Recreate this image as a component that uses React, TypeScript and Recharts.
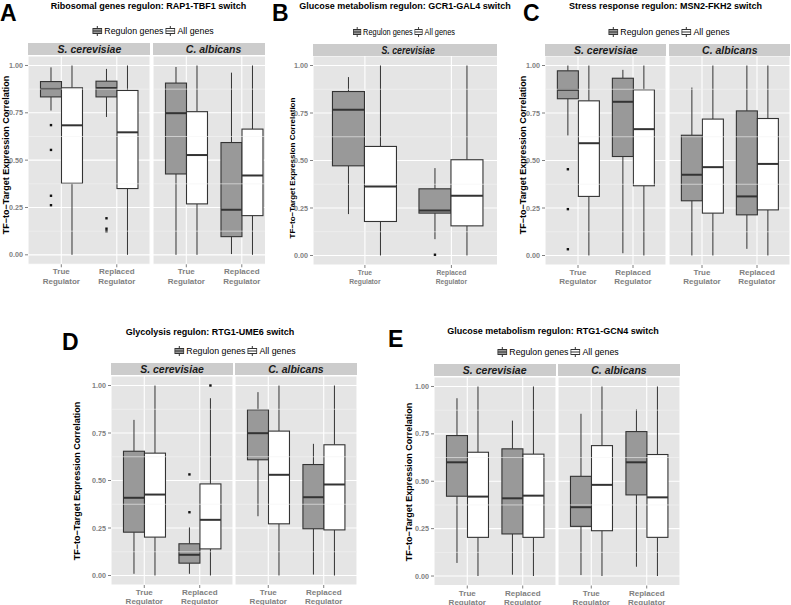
import React from "react";
import { ComposedChart, Bar, XAxis, YAxis, CartesianGrid, ReferenceLine } from "recharts";

const FONT = '"Liberation Sans", Arial, Helvetica, sans-serif';
const LINE = "#333333";

const categories = ["True Regulator", "Replaced Regulator"];
const yTicks = [0, 0.25, 0.5, 0.75, 1];
const minorTicks = [0.125, 0.375, 0.625, 0.875];

// box stats per category: [min, q1, median, q3, max]
// A: Ribosomal genes regulon, RAP1-TBF1
const aScerReg = [[0.762, 0.834, 0.876, 0.915, 0.99], [0.728, 0.834, 0.881, 0.917, 0.982]];
const aScerAll = [[0, 0.378, 0.684, 0.882, 1], [0, 0.35, 0.647, 0.868, 1]];
const aScerRegOut = [[0.685, 0.554, 0.312, 0.262], [0.193, 0.138, 0.125]];
const aCalbReg = [[0, 0.427, 0.748, 0.907, 0.992], [0.004, 0.096, 0.238, 0.593, 0.962]];
const aCalbAll = [[0, 0.269, 0.527, 0.756, 1], [0, 0.207, 0.419, 0.664, 1]];

// B: Glucose metabolism regulon, GCR1-GAL4
const bScerReg = [[0.218, 0.472, 0.767, 0.863, 0.939], [0.086, 0.223, 0.237, 0.351, 0.46]];
const bScerAll = [[0, 0.179, 0.363, 0.574, 1], [0, 0.156, 0.314, 0.504, 1]];
const bScerRegOut = [[], [0.004]];

// C: Stress response regulon, MSN2-FKH2
const cScerReg = [[0.632, 0.825, 0.872, 0.972, 1], [0.012, 0.521, 0.809, 0.933, 0.977]];
const cScerAll = [[0, 0.311, 0.591, 0.814, 1], [0, 0.367, 0.665, 0.872, 1]];
const cScerRegOut = [[0.454, 0.244, 0.033], []];
const cCalbReg = [[0, 0.288, 0.425, 0.633, 0.884], [0.035, 0.214, 0.311, 0.761, 1]];
const cCalbAll = [[0, 0.223, 0.465, 0.718, 1], [0, 0.24, 0.482, 0.721, 1]];

// D: Glycolysis regulon, RTG1-UME6
const dScerReg = [[0.009, 0.228, 0.409, 0.654, 0.819], [0.009, 0.065, 0.109, 0.167, 0.253]];
const dScerAll = [[0, 0.202, 0.426, 0.644, 1], [0, 0.14, 0.293, 0.482, 0.933]];
const dScerRegOut = [[], [0.333, 0.532]];
const dScerAllOut = [[], [1]];
const dCalbReg = [[0.312, 0.609, 0.749, 0.872, 0.965], [0.005, 0.246, 0.412, 0.584, 0.693]];
const dCalbAll = [[0, 0.272, 0.53, 0.76, 1], [0, 0.24, 0.479, 0.688, 1]];

// E: Glucose metabolism regulon, RTG1-GCN4
const eScerReg = [[0.069, 0.421, 0.6, 0.741, 0.938], [0.007, 0.222, 0.41, 0.671, 0.82]];
const eScerAll = [[0, 0.204, 0.419, 0.653, 1], [0, 0.204, 0.424, 0.643, 1]];
const eCalbReg = [[0.005, 0.262, 0.363, 0.526, 0.856], [0.049, 0.428, 0.6, 0.762, 0.879]];
const eCalbAll = [[0, 0.239, 0.481, 0.688, 1], [0, 0.204, 0.415, 0.641, 1]];

const none: number[][] = [[], []];

function facetData(reg: number[][], all: number[][], regOut = none, allOut = none) {
  return categories.map((cat, i) => ({ cat, reg: reg[i], all: all[i], regOut: regOut[i], allOut: allOut[i] }));
}

const panels = [
  {
    letter: "A", lx: 0, ly: 1.5, title: "Ribosomal genes regulon: RAP1-TBF1 switch", tx: 148.5, ty: 5.5,
    gx: 153, gy: 31, yx: 6, yy: 155, ys: 9, plotTop: 55.5, plotH: 208.3, sx: 1,
    facets: [
      { name: "S. cerevisiae", left: 28.4, width: 122.1, showY: true, data: facetData(aScerReg, aScerAll, aScerRegOut) },
      { name: "C. albicans", left: 152.5, width: 122.1, clipRight: 265, data: facetData(aCalbReg, aCalbAll) },
    ],
  },
  {
    letter: "B", lx: 272, ly: 1.5, title: "Glucose metabolism regulon: GCR1-GAL4 switch", tx: 405, ty: 5.5,
    gx: 404, gy: 32, yx: 291.5, yy: 168, ys: 8, plotTop: 56.2, plotH: 209, sx: 0.84,
    facets: [
      { name: "S. cerevisiae", left: 313, width: 190.3, showY: true, clipRight: 497, data: facetData(bScerReg, bScerAll, bScerRegOut) },
    ],
  },
  {
    letter: "C", lx: 523, ly: 1.5, title: "Stress response regulon: MSN2-FKH2 switch", tx: 665.5, ty: 5.5,
    gx: 669, gy: 32, yx: 523, yy: 155, ys: 9, yClip: 519, plotTop: 56.2, plotH: 209, sx: 1,
    facets: [
      { name: "S. cerevisiae", left: 545.3, width: 121, showY: true, data: facetData(cScerReg, cScerAll, cScerRegOut) },
      { name: "C. albicans", left: 669.3, width: 121, data: facetData(cCalbReg, cCalbAll) },
    ],
  },
  {
    letter: "D", lx: 62, ly: 330.5, title: "Glycolysis regulon: RTG1-UME6 switch", tx: 210, ty: 332,
    gx: 235, gy: 351, yx: 77, yy: 481, ys: 9, plotTop: 375.5, plotH: 209, sx: 1,
    facets: [
      { name: "S. cerevisiae", left: 111, width: 122, showY: true, data: facetData(dScerReg, dScerAll, dScerRegOut, dScerAllOut) },
      { name: "C. albicans", left: 235, width: 122, data: facetData(dCalbReg, dCalbAll) },
    ],
  },
  {
    letter: "E", lx: 388, ly: 327.5, title: "Glucose metabolism regulon: RTG1-GCN4 switch", tx: 553, ty: 331,
    gx: 558, gy: 352, yx: 408.5, yy: 482, ys: 9, plotTop: 376.5, plotH: 208.5, sx: 1,
    facets: [
      { name: "S. cerevisiae", left: 433.7, width: 122, showY: true, data: facetData(eScerReg, eScerAll) },
      { name: "C. albicans", left: 558, width: 122, data: facetData(eCalbReg, eCalbAll) },
    ],
  },
];

const BoxShape = (props: any) => {
  const { x, y, width, height, payload, statKey, outKey, boxFill } = props;
  const s = payload && payload[statKey];
  if (!s) return null;
  const [mn, q1, md, q3, mx] = s;
  const top = Math.min(y, y + height);
  const bot = Math.max(y, y + height);
  const span = mx - mn || 1;
  const py = (v: number) => bot - ((v - mn) / span) * (bot - top);
  const cx = x + width / 2;
  const outs: number[] = payload[outKey] || [];
  return (
    <g>
      <line x1={cx} x2={cx} y1={py(mx)} y2={py(q3)} stroke={LINE} strokeWidth={1} />
      <line x1={cx} x2={cx} y1={py(q1)} y2={py(mn)} stroke={LINE} strokeWidth={1} />
      <rect x={x} y={py(q3)} width={width} height={py(q1) - py(q3)} fill={boxFill} stroke={LINE} strokeWidth={1.1} />
      <line x1={x} x2={x + width} y1={py(md)} y2={py(md)} stroke={LINE} strokeWidth={2} />
      {outs.map((v, i) => (
        <rect key={i} x={cx - 1.2} y={py(v) - 1.2} width={2.4} height={2.4} fill="#111" />
      ))}
    </g>
  );
};

const XTick = (props: any) => {
  const { x, y, payload, sx } = props;
  const words = String(payload.value).split(" ");
  return (
    <g transform={`translate(${x},${y}) scale(${sx},1)`}>
      <text textAnchor="middle" fill="#7f7f7f" fontSize={8} fontWeight={700} fontFamily={FONT}>
        {words.map((w, i) => (
          <tspan key={i} x={0} dy={i === 0 ? "0.75em" : "1.17em"}>{w}</tspan>
        ))}
      </text>
    </g>
  );
};

const YTick = (props: any) => {
  const { x, y, payload } = props;
  return (
    <text x={x} y={y} dy="0.35em" textAnchor="end" fill="#7f7f7f" fontSize={7.2} fontWeight={700} fontFamily={FONT}>
      {Number(payload.value).toFixed(2)}
    </text>
  );
};

const LegendKey = ({ fill }: { fill: string }) => (
  <svg width={10} height={10} style={{ display: "block" }}>
    <line x1={5} x2={5} y1={0} y2={10} stroke={LINE} strokeWidth={1} />
    <rect x={0.5} y={2.5} width={9} height={5} fill={fill} stroke={LINE} strokeWidth={1} />
    <line x1={0.5} x2={9.5} y1={5} y2={5} stroke={LINE} strokeWidth={1.2} />
  </svg>
);

function Facet({ f, plotTop, plotH, sx }: any) {
  const YW = 30;
  const XH = 24;
  const chartLeft = f.showY ? f.left - YW : f.left;
  const chartW = f.width + (f.showY ? YW : 0);
  const pad = f.width / 22;
  const visW = f.clipRight ? f.clipRight - chartLeft : chartW;
  const stripW = f.clipRight ? Math.min(f.width, f.clipRight - f.left) : f.width;
  return (
    <>
      <div style={{ position: "absolute", left: f.left, top: plotTop - 12.3, width: stripW, height: 12.3, background: "#CCCCCC", overflow: "hidden" }}>
        <div style={{ width: f.width, textAlign: "center", fontSize: 10.5, fontWeight: 700, fontStyle: "italic", lineHeight: "12.3px", color: "#1a1a1a", transform: `scaleX(${sx})`, whiteSpace: "nowrap" }}>
          {f.name}
        </div>
      </div>
      <div style={{ position: "absolute", left: chartLeft, top: plotTop, width: visW, height: plotH + XH, overflow: "hidden" }}>
        <ComposedChart width={chartW} height={plotH + XH} data={f.data} margin={{ top: 0, right: 0, bottom: 0, left: 0 }} barCategoryGap="12.5%" barGap={0}>
          <CartesianGrid fill="#E5E5E5" fillOpacity={1} stroke="#FFFFFF" strokeWidth={1.1} />
          {minorTicks.map((v) => (
            <ReferenceLine key={v} y={v} stroke="#F3F3F3" strokeWidth={0.6} />
          ))}
          <XAxis
            dataKey="cat"
            type="category"
            interval={0}
            padding={{ left: pad, right: pad }}
            axisLine={false}
            tickLine={{ stroke: "#7f7f7f" }}
            tickSize={3}
            tickMargin={1}
            height={XH}
            tick={(p: any) => <XTick {...p} sx={sx} />}
          />
          <YAxis
            type="number"
            domain={[-0.05, 1.05]}
            ticks={yTicks}
            hide={!f.showY}
            width={YW}
            axisLine={false}
            tickLine={{ stroke: "#7f7f7f" }}
            tickSize={3}
            tickMargin={2}
            tick={(p: any) => <YTick {...p} />}
          />
          <Bar
            dataKey={(d: any) => [d.reg[0], d.reg[4]]}
            isAnimationActive={false}
            shape={(p: any) => <BoxShape {...p} statKey="reg" outKey="regOut" boxFill="#999999" />}
          />
          <Bar
            dataKey={(d: any) => [d.all[0], d.all[4]]}
            isAnimationActive={false}
            shape={(p: any) => <BoxShape {...p} statKey="all" outKey="allOut" boxFill="#FFFFFF" />}
          />
        </ComposedChart>
      </div>
    </>
  );
}

function Panel({ p }: any) {
  const yTitle = (
    <div style={{ position: "absolute", left: p.yx - (p.yClip || 0), top: p.yy, transform: "translate(-50%,-50%) rotate(-90deg)", whiteSpace: "nowrap", fontSize: p.ys, fontWeight: 700, color: "#000" }}>
      TF−to−Target Expression Correlation
    </div>
  );
  return (
    <>
      <div style={{ position: "absolute", left: p.lx, top: p.ly, fontSize: 23, fontWeight: 700, lineHeight: 1, color: "#000" }}>{p.letter}</div>
      <div style={{ position: "absolute", left: p.tx, top: p.ty, transform: "translate(-50%,-50%)", whiteSpace: "nowrap", fontSize: 9, fontWeight: 700, color: "#000" }}>
        {p.title}
      </div>
      <div style={{ position: "absolute", left: p.gx, top: p.gy, transform: `translate(-50%,-50%) scaleX(${p.sx})`, display: "flex", alignItems: "center", whiteSpace: "nowrap", fontSize: 8.8, color: "#000" }}>
        <LegendKey fill="#999999" />
        <span style={{ marginLeft: 2, marginRight: 2 }}>Regulon genes</span>
        <LegendKey fill="#FFFFFF" />
        <span style={{ marginLeft: 2 }}>All genes</span>
      </div>
      {p.yClip ? (
        <div style={{ position: "absolute", left: p.yClip, top: 0, width: 40, height: 300, overflow: "hidden" }}>{yTitle}</div>
      ) : (
        yTitle
      )}
      {p.facets.map((f: any) => (
        <Facet key={f.name} f={f} plotTop={p.plotTop} plotH={p.plotH} sx={p.sx} />
      ))}
    </>
  );
}

export default function App() {
  return (
    <div style={{ position: "absolute", left: 0, top: 0, width: 791, height: 605, background: "#FFFFFF", overflow: "hidden", fontFamily: FONT }}>
      {panels.map((p) => (
        <Panel key={p.letter} p={p} />
      ))}
    </div>
  );
}
